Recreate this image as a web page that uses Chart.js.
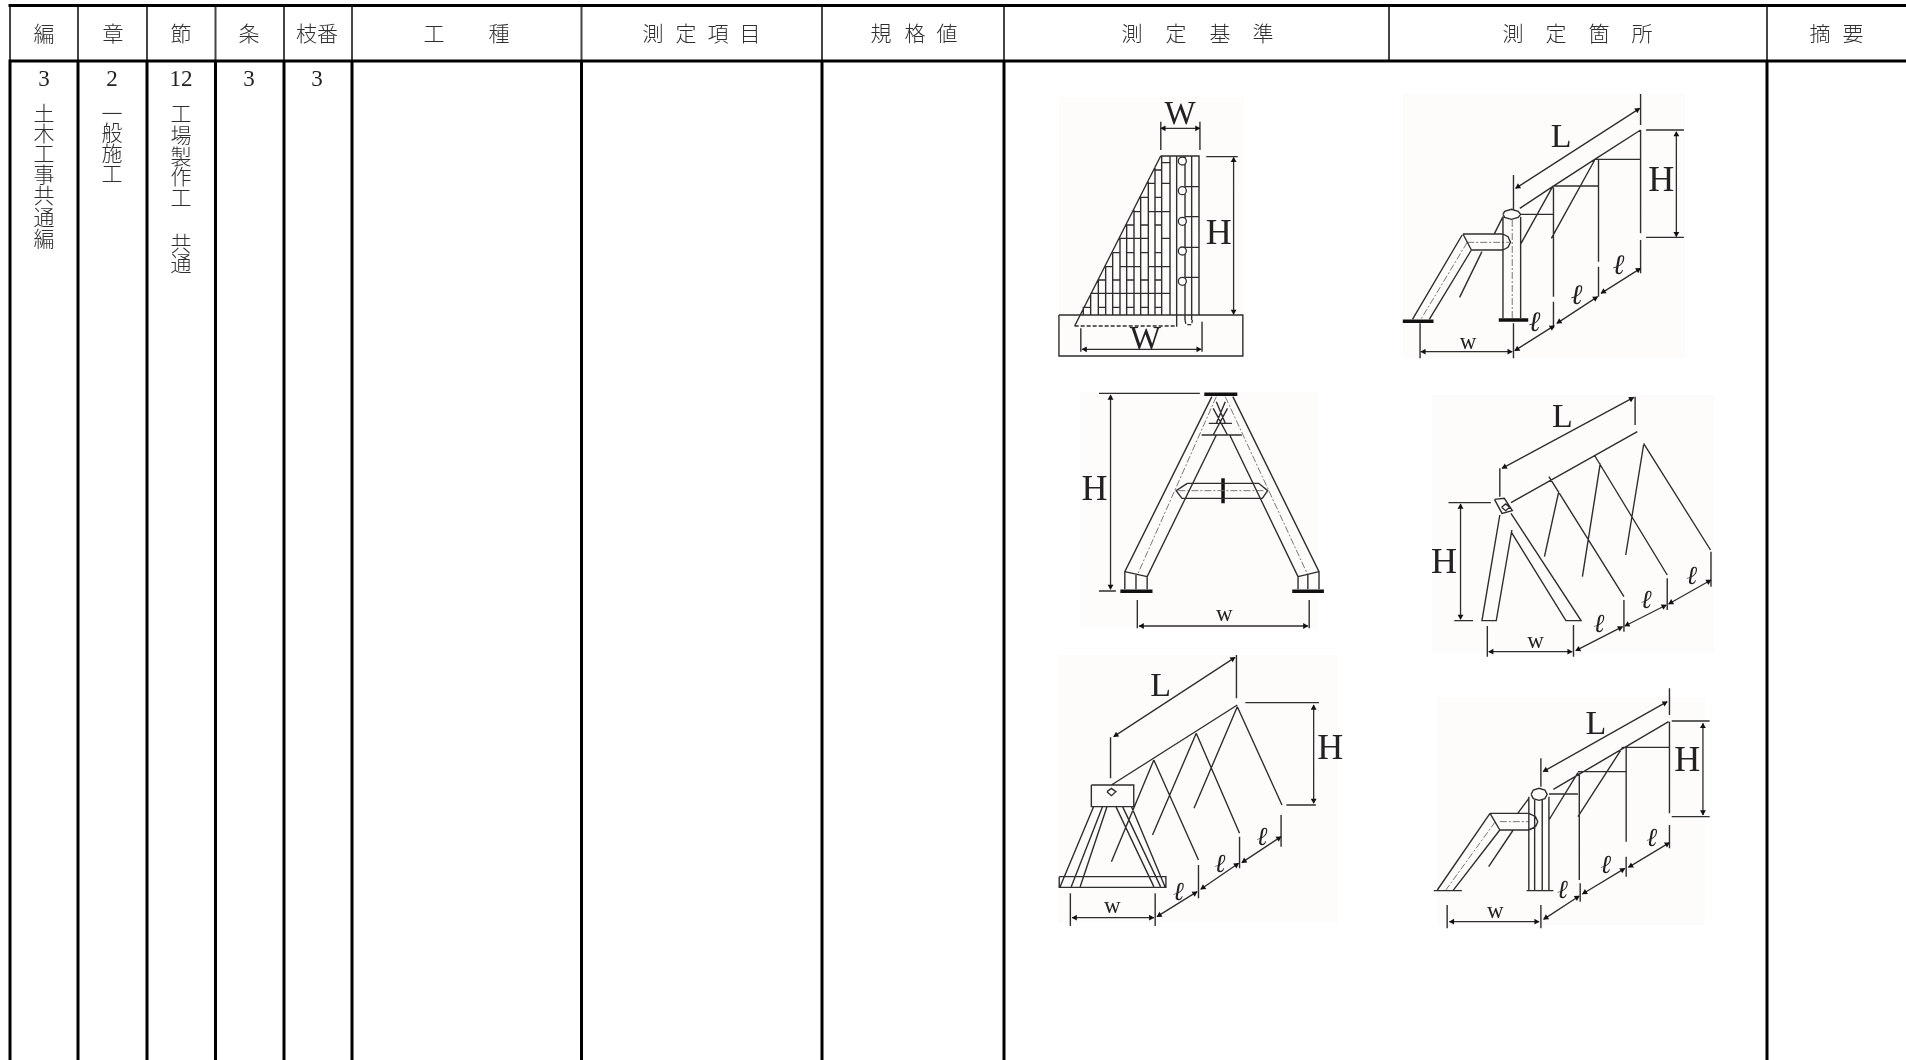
<!DOCTYPE html>
<html lang="ja">
<head>
<meta charset="utf-8">
<title>測定基準</title>
<style>html,body{margin:0;padding:0;background:#fff;overflow:hidden}canvas{display:block}</style>
<script src="https://cdn.jsdelivr.net/npm/chart.js@4/dist/chart.umd.min.js"></script>
</head>
<body>
<canvas id="c" width="1906" height="1060"></canvas>
<script>
/* ---------- table ---------- */
const bodyColumnRules = [10, 78, 147, 215.5, 284, 352, 581.5, 822, 1004, 1767];
const headerOnlyRules = [1389];
const headerTop = 5.5, headerBottom = 61, pageBottom = 1060, pageRight = 1906;

const headerLabels = [["編",44],["章",113],["節",181],["条",249],["枝番",317],["工",434],["種",499],
  ["測",653],["定",686],["項",718],["目",750],["規",881],["格",915],["値",947],
  ["測",1132],["定",1176],["基",1220],["準",1263],["測",1513],["定",1556],["箇",1599],["所",1642],["摘",1820],["要",1853]];
const numberLabels = [["3",44],["2",112],["12",181],["3",249],["3",317]];
const verticalText = [
  [44,[["土",113],["木",133],["工",153],["事",174],["共",195],["通",217],["編",238]]],
  [112,[["一",113],["般",132],["施",153],["工",173]]],
  [181,[["工",113],["場",135],["製",156],["作",176],["工",197],["共",243],["通",263]]]
];

/* ---------- figures: values, [x,y,x,y,...] per stroke ---------- */
const wallFrame = {ox:1070,oy:150,kx:3,ky:3};
const wallLines = [
 [272,18,387,18,387,495],[300,18,300,495],[275,18,275,495],[255,50,255,495],[235,95,235,495],[212,140,212,495],
 [192,180,192,495],[170,225,170,495],[150,265,150,495],[128,310,128,495],[107,350,107,495],[85,390,85,495],
 [62,430,62,495],[40,470,40,495],[320,18,320,530],[345,18,345,510],[365,18,365,510],
 [275,38,300,38],[255,60,275,60],[275,100,300,100],[235,100,255,100],[212,142,235,142],[255,142,275,142],
 [192,185,212,185],[235,185,300,185],[170,225,192,225],[212,225,235,225],[255,225,275,225],
 [150,265,235,265],[275,265,300,265],[128,308,150,308],[170,308,192,308],[212,308,235,308],[255,308,275,308],
 [107,350,128,350],[150,350,212,350],[235,350,300,350],[85,390,107,390],[128,390,150,390],[170,390,192,390],
 [212,390,235,390],[255,390,275,390],[62,430,300,430],[40,472,62,472],[85,472,107,472],[128,472,150,472],
 [170,472,192,472],[212,472,235,472],[255,472,275,472],
 [345,110,387,110],[345,200,387,200],[345,292,387,292],[345,382,387,382],
 [272,18,14,528]
];
const wallDashed = [[14,528,320,528],[345,510,348,524,365,524,367,510]];
const wallBolts = [[337,33],[337,122],[337,214],[337,303],[337,394]];

const zoomA = {ox:1040,oy:80,kx:2.376,ky:3};
const zoomB = {ox:1040,oy:380,kx:2.24,ky:3};
const zoomC = {ox:1040,oy:650,kx:2.24,ky:3};

const fig1Lines = [[45,705,482,705,482,828,45,828,45,705],[287,125,287,210],[380,125,380,210],[395,230,470,230],
 [97,745,97,815],[385,725,385,815]];
const fig1Arrows = [[287,145,380,145],[460,232,460,703],[100,808,383,808]];

const fig2Lines = [[1125,285,1125,388],[1427,42,1427,135],[1140,385,1218,320,1318,238,1427,150],
 [1440,150,1530,150],[1440,472,1530,472],[1427,150,1427,460],[1427,480,1427,580],[1327,238,1327,545],[1327,560,1327,650],
 [1220,322,1220,650],[1220,665,1220,745],[1318,238,1427,238],[1218,318,1327,318],[1140,403,1220,403],
 [1218,320,1143,490],[1318,240,1215,475],
 [1100,403,1104,394,1120,388,1136,394,1142,403,1136,412,1120,418,1104,412,1100,403],
 [1100,410,1100,715],[1142,410,1142,715],[1100,410,1080,460],
 [1005,462,1100,462],[1025,510,1100,510],[1100,462,1112,470,1118,487,1112,502,1100,510],[1005,462,1025,510],
 [1003,465,885,718],[1025,510,925,718],[1050,515,997,652],[903,730,903,835],[1125,730,1125,835]];
const fig2Thin = [[1015,487,1115,487],[1015,487,905,718],[1122,420,1122,715]];
const fig2Thick = [[1090,720,1160,720],[862,724,935,724]];
const fig2Arrows = [[1130,325,1425,85],[1512,155,1512,470],[905,815,1122,815],[1128,812,1222,737],[1228,730,1325,650],[1333,640,1427,565]];

const fig3Lines = [[132,40,358,40],[132,633,170,633],[385,50,190,575,190,628],[395,165,240,590,240,628],[425,165,578,590,578,628],
 [432,50,625,575,625,628],[190,575,240,590],[625,575,578,590],[215,585,215,628],[600,585,600,628],
 [330,310,490,310,510,332,498,355,318,355,305,332,330,310],
 [378,130,430,130],[362,165,452,165],[388,85,420,165],[420,85,388,165],[395,65,415,130],[415,65,395,130],
 [218,660,218,745],[603,660,603,745]];
const fig3Thin = [[395,50,218,585],[415,50,600,585],[310,332,505,332]];
const fig3Thick = [[368,43,442,43],[180,634,252,634],[565,634,636,634],[410,295,410,370]];
const fig3Arrows = [[158,45,158,628],[222,738,600,738]];

const fig4Lines = [[1030,265,1030,350],[1333,50,1333,135],[1055,368,1338,155],
 [1018,358,1040,355,1058,392,1035,400,1018,358],[1034,382,1043,372,1052,382,1043,392,1034,382],
 [1030,405,990,722,1022,722,1057,450],[1055,400,1212,722,1178,722,1055,455],
 [915,368,1010,368],[928,722,970,722],
 [1140,290,1308,650],[1243,228,1405,585],[1352,190,1502,510],[1162,335,1130,530],[1255,250,1215,590],[1352,195,1312,525],
 [1308,660,1308,755],[1405,595,1405,690],[1503,515,1503,620],[1002,738,1002,830],[1195,735,1195,830]];
const fig4Arrows = [[1035,265,1330,52],[942,372,942,718],[1005,815,1192,815],[1200,812,1305,740],[1310,738,1403,675],[1408,672,1503,600]];

const fig5Lines = [[158,262,158,385],[440,15,440,145],[460,158,625,158],[552,465,618,465],[160,405,442,165],
 [115,405,210,405,210,470,115,470,115,405],[150,425,160,415,170,425,160,437,150,425],
 [120,470,45,710],[140,470,70,710],[150,470,90,710],[170,470,255,710],[185,470,270,710],[205,470,280,710],
 [43,680,282,680,282,712,43,712,43,680],
 [255,330,355,630],[350,250,447,550],[442,170,542,465],[255,330,160,635],[350,250,252,555],[442,170,345,475],
 [355,645,355,745],[447,560,447,655],[540,495,540,590],[68,730,68,828],[258,730,258,828]];
const fig5Arrows = [[165,260,437,22],[613,165,613,460],[72,803,255,803],[262,800,352,725],[360,718,445,640],[452,638,540,560]];

const fig6Lines = [[1122,325,1122,410],[1410,115,1410,195],[1415,213,1500,213],[1415,500,1500,500],[1150,418,1408,215],
 [1305,292,1410,292],[1205,365,1313,365],[1140,432,1205,432],[1410,215,1410,490],[1313,290,1313,575],[1208,368,1208,690],
 [1205,368,1140,510],[1305,292,1205,500],
 [1100,433,1105,420,1118,415,1131,420,1136,433,1131,446,1118,451,1105,446,1100,433],
 [1095,440,1095,720],[1140,440,1140,720],[1108,450,1108,720],[1125,450,1125,720],[1090,722,1150,722],
 [1008,490,1095,490],[1030,540,1095,540],[1095,490,1110,500,1115,515,1110,530,1095,540],[1008,490,1030,540],
 [1008,490,890,720],[1030,540,925,722],[1060,540,1005,650],[882,722,945,722],[1095,445,1070,490],
 [912,765,912,835],[1122,765,1122,835],[1210,700,1210,755],[1313,620,1313,680],[1410,525,1410,595]];
const fig6Thin = [[1020,515,908,722],[1030,515,1095,515]];
const fig6Arrows = [[1127,365,1405,155],[1485,220,1485,495],[917,815,1118,815],[1128,808,1208,738],[1215,732,1310,655],[1318,652,1410,578]];

const figureBackdrops = [
 [zoomA,45,50,485,830],[zoomA,862,40,1532,835],[zoomB,90,35,622,745],[zoomB,878,45,1510,820],[zoomC,40,15,668,820],[zoomC,890,140,1490,825]
];

/* text: [frame, string, x, y, font px, kind] */
const figureLetters = [
 [zoomA,"W",333,105,33,"s"],[zoomA,"H",425,465,36,"s"],[zoomA,"W",250,780,33,"s"],
 [zoomA,"L",1238,175,34,"s"],[zoomA,"H",1476,305,36,"s"],[zoomA,"w",1017,790,23,"s"],
 [zoomA,"ℓ",1175,730,28,"i"],[zoomA,"ℓ",1275,650,28,"i"],[zoomA,"ℓ",1375,560,28,"i"],
 [zoomB,"H",122,332,36,"s"],[zoomB,"w",413,705,23,"s"],
 [zoomB,"L",1170,115,34,"s"],[zoomB,"H",905,552,36,"s"],[zoomB,"w",1110,785,23,"s"],
 [zoomB,"ℓ",1252,735,26,"i"],[zoomB,"ℓ",1358,665,26,"i"],[zoomB,"ℓ",1460,592,26,"i"],
 [zoomC,"L",270,112,34,"s"],[zoomC,"H",650,300,36,"s"],[zoomC,"w",162,772,23,"s"],
 [zoomC,"ℓ",310,730,26,"i"],[zoomC,"ℓ",403,645,26,"i"],[zoomC,"ℓ",497,565,26,"i"],
 [zoomC,"L",1245,225,34,"s"],[zoomC,"H",1450,335,36,"s"],[zoomC,"w",1020,785,23,"s"],
 [zoomC,"ℓ",1170,725,26,"i"],[zoomC,"ℓ",1267,650,26,"i"],[zoomC,"ℓ",1370,567,26,"i"]
];

/* ---------- build datasets ---------- */
const px = (f,x,y)=>({x:f.ox+x/f.kx,y:f.oy+y/f.ky});
function strokes(f,list){
  const out=[];
  list.forEach(s=>{for(let i=0;i<s.length;i+=2)out.push(px(f,s[i],s[i+1]));out.push({x:NaN,y:NaN});});
  return out;
}
const INK="#2e2e2e";
function lineSet(data,width,color,extra){
  return Object.assign({data,showLine:true,spanGaps:false,borderColor:color,borderWidth:width,pointRadius:0,pointHoverRadius:0,
    fill:false,tension:0,order:5,borderCapStyle:"butt",borderJoinStyle:"miter"},extra||{});
}
const arrowShaft=[],arrowTips=[],arrowRot=[];
function addArrows(f,list){
  list.forEach(a=>{
    const p=px(f,a[0],a[1]),q=px(f,a[2],a[3]);
    arrowShaft.push(p,q,{x:NaN,y:NaN});
    const dx=q.x-p.x,dy=q.y-p.y,len=Math.hypot(dx,dy),ux=dx/len,uy=dy/len;
    arrowTips.push({x:q.x-ux*3,y:q.y-uy*3});arrowRot.push(Math.atan2(ux,-uy)*180/Math.PI);
    arrowTips.push({x:p.x+ux*3,y:p.y+uy*3});arrowRot.push(Math.atan2(-ux,uy)*180/Math.PI);
  });
}
[[zoomA,fig1Arrows],[zoomA,fig2Arrows],[zoomB,fig3Arrows],[zoomB,fig4Arrows],[zoomC,fig5Arrows],[zoomC,fig6Arrows]].forEach(a=>addArrows(a[0],a[1]));

const thinStrokes=[...strokes(wallFrame,wallLines),...strokes(zoomA,fig1Lines),...strokes(zoomA,fig2Lines),
  ...strokes(zoomB,fig3Lines),...strokes(zoomB,fig4Lines),...strokes(zoomC,fig5Lines),...strokes(zoomC,fig6Lines)];
const faintStrokes=[...strokes(zoomA,fig2Thin),...strokes(zoomB,fig3Thin),...strokes(zoomC,fig6Thin)];
const thickStrokes=[...strokes(zoomA,fig2Thick),...strokes(zoomB,fig3Thick)];

const datasets=[];
figureBackdrops.forEach(b=>{
  const [f,x0,y0,x1,y1]=b;
  datasets.push(lineSet([px(f,x0,y0),px(f,x1,y0),px(f,x1,y1),px(f,x0,y1),px(f,x0,y0)],0,"rgba(0,0,0,0)",
    {fill:"shape",backgroundColor:"#fdfcfa",order:20}));
});
datasets.push(lineSet(thinStrokes,1.4,INK));
datasets.push(lineSet(faintStrokes,1,"#777",{borderDash:[7,2,2,2]}));
datasets.push(lineSet(thickStrokes,3.5,"#111"));
datasets.push(lineSet(strokes(wallFrame,wallDashed),1.3,INK,{borderDash:[4,2]}));
datasets.push(lineSet(arrowShaft,1.3,INK));
datasets.push({data:arrowTips,showLine:false,pointStyle:"triangle",pointRadius:3.4,pointBackgroundColor:"#111",pointBorderWidth:0,
  pointRotation:c=>arrowRot[c.dataIndex],order:4});
datasets.push({data:wallBolts.map(b=>px(wallFrame,b[0],b[1])),showLine:false,pointStyle:"circle",pointRadius:4,
  pointBackgroundColor:"#fff",pointBorderColor:INK,pointBorderWidth:1.3,order:3});

/* table rules */
const bodyRules=[],headRules=[];
bodyColumnRules.forEach(x=>{bodyRules.push({x,y:headerBottom},{x,y:pageBottom},{x:NaN,y:NaN});
  headRules.push({x,y:headerTop},{x,y:headerBottom},{x:NaN,y:NaN});});
headerOnlyRules.forEach(x=>headRules.push({x,y:headerTop},{x,y:headerBottom},{x:NaN,y:NaN}));
bodyRules.push({x:bodyColumnRules[0]-1.5,y:headerTop},{x:pageRight,y:headerTop},{x:NaN,y:NaN},
  {x:bodyColumnRules[0]-1.5,y:headerBottom},{x:pageRight,y:headerBottom});
datasets.push(lineSet(headRules,2,"#444",{order:2}));
datasets.push(lineSet(bodyRules,3,"#000",{order:1}));

const textPlugin={id:"tableText",afterDatasetsDraw(chart){
  const g=chart.ctx,sx=chart.scales.x,sy=chart.scales.y;
  g.save();g.textAlign="center";g.textBaseline="middle";
  const put=(t,x,y)=>g.fillText(t,sx.getPixelForValue(x),sy.getPixelForValue(y));
  const CJK='"Noto Sans CJK JP"';
  g.fillStyle="#2e2e2e";g.font="300 21px "+CJK;
  headerLabels.forEach(l=>put(l[0],l[1],33.5));
  verticalText.forEach(col=>col[1].forEach(l=>put(l[0],col[0],l[1])));
  g.fillStyle="#222";g.font='23px "Liberation Serif"';
  numberLabels.forEach(l=>put(l[0],l[1],80));
  figureLetters.forEach(t=>{
    const p=px(t[0],t[2],t[3]);
    g.fillStyle="#222";
    g.font=t[5]==="i"?`italic ${t[4]}px "DejaVu Serif"`:`${t[4]}px "Liberation Serif"`;
    put(t[1],p.x,p.y);
  });
  g.restore();
}};

new Chart(document.getElementById("c"),{
  type:"scatter",
  data:{datasets},
  plugins:[textPlugin],
  options:{responsive:false,animation:false,devicePixelRatio:1,
    layout:{padding:0,autoPadding:false},
    plugins:{legend:{display:false},tooltip:{enabled:false},title:{display:false}},
    events:[],
    scales:{
      x:{type:"linear",min:0,max:pageRight,display:false},
      y:{type:"linear",min:0,max:pageBottom,reverse:true,display:false}
    }
  }
});
</script>
</body>
</html>
